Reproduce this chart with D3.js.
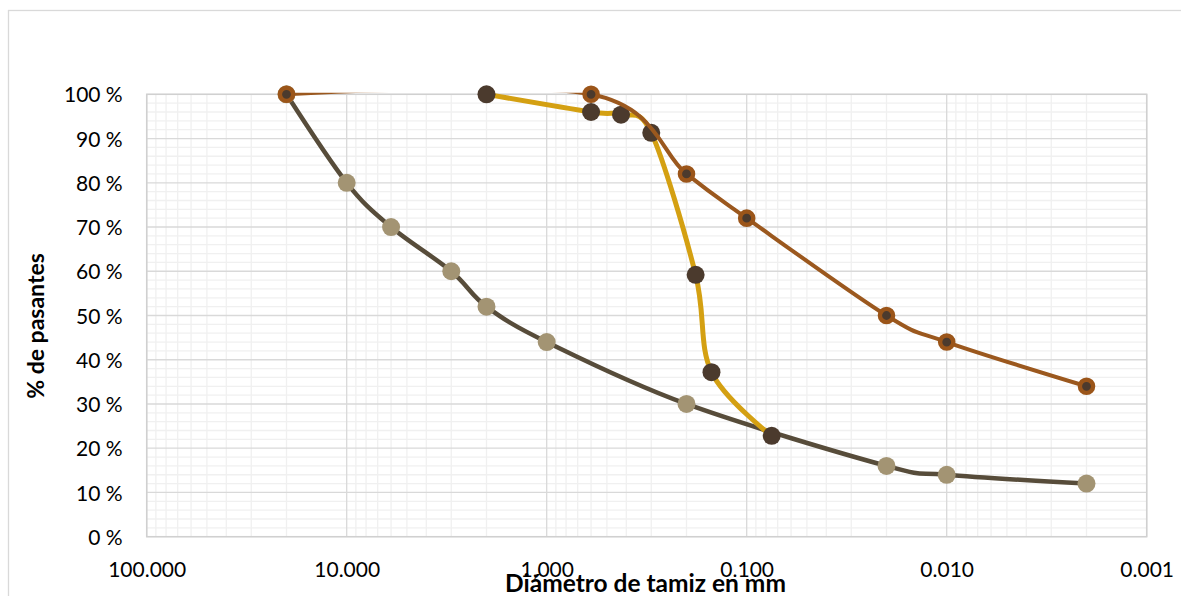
<!DOCTYPE html>
<html>
<head>
<meta charset="utf-8">
<script src="https://cdn.jsdelivr.net/npm/d3@7"></script>
<style>
  html, body { margin: 0; padding: 0; background: #fff; }
  svg { display: block; }
  text { font-family: Lato, "Open Sans", sans-serif; fill: #000; }
</style>
</head>
<body>
<svg id="chart" width="1181" height="596"></svg>
<script>
// ---- data ----
const sizesA = [20, 10, 6, 3, 2, 1, 0.2, 0.02, 0.01, 0.002];
const passA  = [100, 80, 70, 60, 52, 44, 30, 16, 14, 12];

const sizesB = [2, 0.6, 0.425, 0.3, 0.18, 0.15, 0.075];
const passB  = [100, 96, 95.4, 91.3, 59.2, 37.2, 22.8];

const sizesC = [20, 0.6, 0.2, 0.1, 0.02, 0.01, 0.002];
const passC  = [100, 100, 82, 72, 50, 44, 34];

const xTickValues = [100, 10, 1, 0.1, 0.01, 0.001];
const xTickLabels = ["100.000", "10.000", "1,000", "0.100", "0.010", "0.001"];
const yTickValues = [0, 10, 20, 30, 40, 50, 60, 70, 80, 90, 100];
const yTickLabels = yTickValues.map(v => v + " %");

const xTitle = "Diámetro de tamiz en mm";
const yTitle = "% de pasantes";

// ---- layout ----
const svg = d3.select("#chart");
const pL = 146.7, pR = 1146.7, pT = 94.3, pB = 536.7;

const x = d3.scaleLog().domain([100, 0.001]).range([pL, pR]);
const y = d3.scaleLinear().domain([0, 100]).range([pB, pT]);

// outer chart border
svg.append("rect").attr("x", 8.5).attr("y", 10.5).attr("width", 1300).attr("height", 700)
  .attr("fill", "none").attr("stroke", "#d9d9d9").attr("stroke-width", 1.3);

// minor grid
const minorX = [];
for (let e = -3; e < 2; e++) for (let m = 2; m <= 9; m++) minorX.push(m * Math.pow(10, e));
const minorY = d3.range(0, 101, 2).filter(v => v % 10 !== 0);

const grid = svg.append("g");
grid.selectAll(".mx").data(minorX).join("line")
  .attr("x1", d => x(d)).attr("x2", d => x(d)).attr("y1", pT).attr("y2", pB)
  .attr("stroke", "#f0f0f0").attr("stroke-width", 1.3);
grid.selectAll(".my").data(minorY).join("line")
  .attr("x1", pL).attr("x2", pR).attr("y1", d => y(d)).attr("y2", d => y(d))
  .attr("stroke", "#f0f0f0").attr("stroke-width", 1.3);
grid.selectAll(".Mx").data(xTickValues).join("line")
  .attr("x1", d => x(d)).attr("x2", d => x(d)).attr("y1", pT).attr("y2", pB)
  .attr("stroke", "#d9d9d9").attr("stroke-width", 1.3);
grid.selectAll(".My").data(yTickValues).join("line")
  .attr("x1", pL).attr("x2", pR).attr("y1", d => y(d)).attr("y2", d => y(d))
  .attr("stroke", "#d9d9d9").attr("stroke-width", 1.3);
svg.append("rect").attr("x", pL).attr("y", pT).attr("width", pR - pL).attr("height", pB - pT)
  .attr("fill", "none").attr("stroke", "#d0d0d0").attr("stroke-width", 1.5);

// axes labels via d3 axes (no lines/ticks)
const yAxis = d3.axisLeft(y).tickValues(yTickValues).tickFormat((d, i) => yTickLabels[i]).tickSize(0).tickPadding(0);
const gy = svg.append("g").attr("transform", `translate(${pL - 24},0)`).call(yAxis);
gy.select(".domain").remove();
gy.selectAll("text").style("font-family", "Lato").style("font-size", "21px").attr("fill", "#000").attr("dy", "0.36em");

const xAxis = d3.axisBottom(x).tickValues(xTickValues).tickFormat((d, i) => xTickLabels[i]).tickSize(0).tickPadding(0);
const gx = svg.append("g").attr("transform", `translate(0,${pB + 40})`).call(xAxis);
gx.select(".domain").remove();
gx.selectAll("text").style("font-family", "Lato").style("font-size", "21px").attr("fill", "#000").attr("dy", "0");

// titles
svg.append("text").attr("x", 645.5).attr("y", 591.5).attr("text-anchor", "middle")
  .style("font-weight", "bold").style("font-size", "24.5px").text(xTitle);
svg.append("text").attr("transform", "translate(44,326) rotate(-90)").attr("text-anchor", "middle")
  .style("font-weight", "bold").style("font-size", "23px").text(yTitle);

// clip for lines
svg.append("clipPath").attr("id", "plotclip").append("rect")
  .attr("x", pL).attr("y", pT - 1.5).attr("width", pR - pL).attr("height", pB - pT + 1.5);

const line = d3.line().x(d => x(d[0])).y(d => y(d[1])).curve(d3.curveCatmullRom.alpha(0));

function series(sizes, pass, lineColor, lw, markerFn) {
  const pts = sizes.map((s, i) => [s, pass[i]]);
  svg.append("path").datum(pts).attr("d", line).attr("fill", "none")
    .attr("stroke", lineColor).attr("stroke-width", lw).attr("stroke-linejoin", "round")
    .attr("clip-path", "url(#plotclip)");
  const g = svg.append("g");
  markerFn(g.selectAll("circle").data(pts).join("circle")
    .attr("cx", d => x(d[0])).attr("cy", d => y(d[1])));
}

series(sizesA, passA, "#574c3a", 4.5, c => c.attr("r", 9).attr("fill", "#a39473"));
series(sizesB, passB, "#d4a012", 5, c => c.attr("r", 9).attr("fill", "#4b3a2d"));
series(sizesC, passC, "#9b581e", 4, c => c.attr("r", 6.6).attr("fill", "#4b3a2d")
  .attr("stroke", "#9b5519").attr("stroke-width", 4.4));
</script>
</body>
</html>
